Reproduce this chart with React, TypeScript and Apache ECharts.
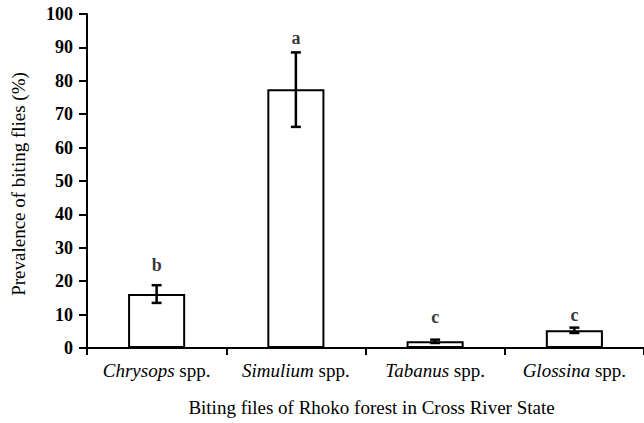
import React, { useEffect, useRef } from "react";
import * as echarts from "echarts";

const genera = ["Chrysops", "Simulium", "Tabanus", "Glossina"];
const prevalence = [16.2, 77.5, 2.0, 5.3];
const errLow = [13.5, 66.2, 1.5, 4.5];
const errHigh = [18.8, 88.5, 2.5, 6.1];
const letters = ["b", "a", "c", "c"];
const letterPos = [25, 92.8, 9.4, 10.0];
const yTicks = { min: 0, max: 100, interval: 10 };
const xTitle = "Biting files of Rhoko forest in Cross River State";
const yTitle = "Prevalence of biting flies (%)";

const FONT = "Times New Roman, Liberation Serif, DejaVu Serif, serif";

export default function App() {
  const ref = useRef<HTMLDivElement>(null);
  useEffect(() => {
    document.body.style.margin = "0";
    const chart = echarts.init(ref.current!, null, { renderer: "svg" });
    chart.setOption({
      animation: false,
      backgroundColor: "#ffffff",
      textStyle: { fontFamily: FONT },
      grid: { left: 87, top: 14, right: -8, bottom: 75 },
      graphic: [
        {
          type: "text",
          x: 18,
          y: 184,
          rotation: Math.PI / 2,
          style: {
            text: yTitle,
            fontFamily: FONT,
            fontSize: 19,
            fill: "#000",
            align: "center",
            verticalAlign: "middle",
          },
        },
      ],
      xAxis: {
        type: "category",
        data: genera,
        name: xTitle,
        nameLocation: "middle",
        nameGap: 50,
        nameTextStyle: { fontFamily: FONT, fontSize: 19, color: "#000", padding: [0, 0, 0, 12] },
        axisLine: { lineStyle: { color: "#000", width: 2 } },
        axisTick: { show: true, interval: 0, length: 7, lineStyle: { color: "#000", width: 2 } },
        axisLabel: {
          interval: 0,
          margin: 13,
          formatter: (v: string) => `{i|${v}}{n| spp.}`,
          rich: {
            i: { fontFamily: FONT, fontStyle: "italic", fontSize: 19, color: "#000" },
            n: { fontFamily: FONT, fontSize: 19, color: "#000" },
          },
        },
      },
      yAxis: {
        type: "value",
        min: yTicks.min,
        max: yTicks.max,
        interval: yTicks.interval,
        splitLine: { show: false },
        axisLine: { show: true, lineStyle: { color: "#000", width: 2 } },
        axisTick: { show: true, length: 8, lineStyle: { color: "#000", width: 2 } },
        axisLabel: { fontFamily: FONT, fontSize: 18, fontWeight: "bold", color: "#000", margin: 14 },
      },
      series: [
        {
          type: "bar",
          data: prevalence,
          barWidth: "41%",
          itemStyle: { color: "#fff", borderColor: "#000", borderWidth: 2 },
          z: 2,
        },
        {
          type: "custom",
          data: genera.map((_, i) => [i, errLow[i], errHigh[i]]),
          z: 3,
          renderItem: (params: any, api: any) => {
            const x = api.value(0);
            const lo = api.coord([x, api.value(1)]);
            const hi = api.coord([x, api.value(2)]);
            const half = 5;
            const style = { stroke: "#000", lineWidth: 2.5 };
            return {
              type: "group",
              children: [
                { type: "line", shape: { x1: lo[0], y1: lo[1], x2: hi[0], y2: hi[1] }, style },
                { type: "line", shape: { x1: lo[0] - half, y1: lo[1], x2: lo[0] + half, y2: lo[1] }, style },
                { type: "line", shape: { x1: hi[0] - half, y1: hi[1], x2: hi[0] + half, y2: hi[1] }, style },
              ],
            };
          },
        },
        {
          type: "scatter",
          data: letterPos.map((v, i) => [i, v]),
          symbolSize: 0,
          label: {
            show: true,
            position: "inside",
            formatter: (p: any) => letters[p.dataIndex],
            fontFamily: FONT,
            fontSize: 18,
            fontWeight: "bold",
            color: "#000",
          },
        },
      ],
    });
    return () => chart.dispose();
  }, []);
  return <div ref={ref} style={{ width: 644, height: 423 }} />;
}
